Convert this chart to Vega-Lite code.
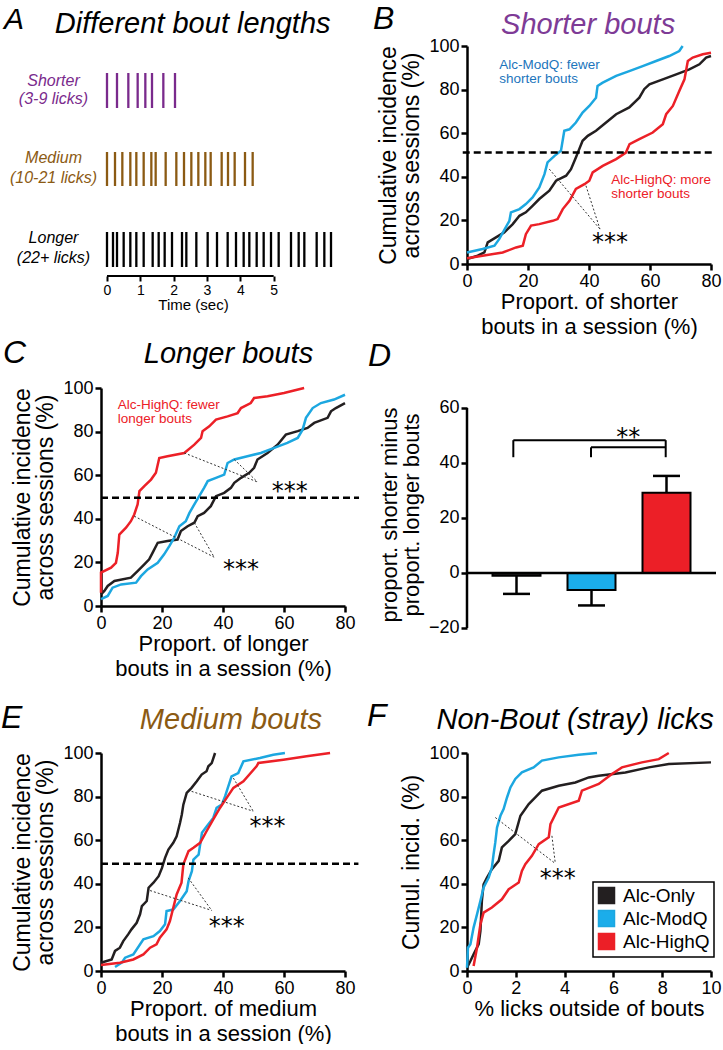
{
"$schema": "https://vega.github.io/schema/vega-lite/v6.json",
"padding": {"top": 2, "left": 0, "right": 0, "bottom": 0},
"background": "white",
"columns": 2,
"spacing": {"row": 112, "column": 122},
"bounds": "flush",
"resolve": {"scale": {"color": "independent"}, "legend": {"color": "independent"}},
"config": {
 "font": "Liberation Sans",
 "view": {"stroke": null},
 "text": {"baseline": "alphabetic"},
 "axis": {"grid": false, "domainColor": "#000", "domainWidth": 2.5, "tickColor": "#000", "tickWidth": 2.5, "tickSize": 6, "labelFontSize": 18, "labelColor": "#000", "labelFont": "Liberation Sans", "titleFont": "Liberation Sans", "titleFontWeight": "normal", "titleColor": "#000", "labelPadding": 2, "labelFlush": false},
 "axisX": {"titleFontSize": 22, "titleLineHeight": 25, "titlePadding": 1},
 "axisY": {"titleFontSize": 23, "titleLineHeight": 23, "titlePadding": 5}
},
"datasets": {
 "A": [
  {"row":"Shorter","t":0},{"row":"Shorter","t":0.30},{"row":"Shorter","t":0.64},{"row":"Shorter","t":0.92},{"row":"Shorter","t":1.15},{"row":"Shorter","t":1.35},{"row":"Shorter","t":1.69},{"row":"Shorter","t":2.04},
  {"row":"Medium","t":0},{"row":"Medium","t":0.24},{"row":"Medium","t":0.46},{"row":"Medium","t":0.70},{"row":"Medium","t":0.88},{"row":"Medium","t":1.10},{"row":"Medium","t":1.33},{"row":"Medium","t":1.46},{"row":"Medium","t":1.76},{"row":"Medium","t":2.08},{"row":"Medium","t":2.31},{"row":"Medium","t":2.53},{"row":"Medium","t":2.74},{"row":"Medium","t":2.95},{"row":"Medium","t":3.11},{"row":"Medium","t":3.44},{"row":"Medium","t":3.63},{"row":"Medium","t":3.83},{"row":"Medium","t":4.14},{"row":"Medium","t":4.37},
  {"row":"Longer","t":0},{"row":"Longer","t":0.18},{"row":"Longer","t":0.30},{"row":"Longer","t":0.50},{"row":"Longer","t":0.70},{"row":"Longer","t":0.88},{"row":"Longer","t":1.10},{"row":"Longer","t":1.37},{"row":"Longer","t":1.55},{"row":"Longer","t":1.73},{"row":"Longer","t":1.95},{"row":"Longer","t":2.25},{"row":"Longer","t":2.38},{"row":"Longer","t":2.68},{"row":"Longer","t":3.02},{"row":"Longer","t":3.30},{"row":"Longer","t":3.62},{"row":"Longer","t":3.87},{"row":"Longer","t":4.10},{"row":"Longer","t":4.27},{"row":"Longer","t":4.49},{"row":"Longer","t":4.70},{"row":"Longer","t":4.92},{"row":"Longer","t":5.15},{"row":"Longer","t":5.52},{"row":"Longer","t":5.75},{"row":"Longer","t":5.92},{"row":"Longer","t":6.29},{"row":"Longer","t":6.52},{"row":"Longer","t":6.72}
 ],
 "B": [
  {"g":"Alc-Only","x":0,"y":2.3},{"g":"Alc-Only","x":3.5,"y":3.8},{"g":"Alc-Only","x":5.7,"y":5.3},{"g":"Alc-Only","x":6.8,"y":9.9},{"g":"Alc-Only","x":9.5,"y":12.2},{"g":"Alc-Only","x":12.2,"y":14.5},{"g":"Alc-Only","x":15,"y":18.3},{"g":"Alc-Only","x":17.2,"y":22.1},{"g":"Alc-Only","x":19.3,"y":23.7},{"g":"Alc-Only","x":21.5,"y":26.7},{"g":"Alc-Only","x":23.7,"y":29.8},{"g":"Alc-Only","x":27,"y":33.6},{"g":"Alc-Only","x":29.2,"y":38.2},{"g":"Alc-Only","x":32.5,"y":40.5},{"g":"Alc-Only","x":34.1,"y":43.5},{"g":"Alc-Only","x":35.7,"y":48.9},{"g":"Alc-Only","x":36.8,"y":52.7},{"g":"Alc-Only","x":37.9,"y":56.5},{"g":"Alc-Only","x":39.6,"y":58.8},{"g":"Alc-Only","x":42.3,"y":61.1},{"g":"Alc-Only","x":45.6,"y":64.9},{"g":"Alc-Only","x":48.9,"y":68.7},{"g":"Alc-Only","x":53.2,"y":71.8},{"g":"Alc-Only","x":56.5,"y":76.3},{"g":"Alc-Only","x":58.1,"y":80.2},{"g":"Alc-Only","x":59.8,"y":82.4},{"g":"Alc-Only","x":64.2,"y":84.7},{"g":"Alc-Only","x":68.6,"y":87},{"g":"Alc-Only","x":72.9,"y":89.3},{"g":"Alc-Only","x":76.2,"y":91.6},{"g":"Alc-Only","x":78.4,"y":94.7},{"g":"Alc-Only","x":80,"y":95.4},
  {"g":"Alc-ModQ","x":0,"y":5.3},{"g":"Alc-ModQ","x":5.1,"y":6.9},{"g":"Alc-ModQ","x":9,"y":8.4},{"g":"Alc-ModQ","x":10.6,"y":11.5},{"g":"Alc-ModQ","x":13.9,"y":19.8},{"g":"Alc-ModQ","x":14.4,"y":23.7},{"g":"Alc-ModQ","x":17.2,"y":25.2},{"g":"Alc-ModQ","x":19.3,"y":27.5},{"g":"Alc-ModQ","x":21.5,"y":30.5},{"g":"Alc-ModQ","x":23.7,"y":35.1},{"g":"Alc-ModQ","x":25.4,"y":41.2},{"g":"Alc-ModQ","x":26.4,"y":46.6},{"g":"Alc-ModQ","x":28.7,"y":49.6},{"g":"Alc-ModQ","x":30.8,"y":51.9},{"g":"Alc-ModQ","x":31.9,"y":61.1},{"g":"Alc-ModQ","x":33.6,"y":61.8},{"g":"Alc-ModQ","x":35.7,"y":64.9},{"g":"Alc-ModQ","x":37.9,"y":69.5},{"g":"Alc-ModQ","x":40.1,"y":72.5},{"g":"Alc-ModQ","x":42.3,"y":76.3},{"g":"Alc-ModQ","x":42.8,"y":81.7},{"g":"Alc-ModQ","x":44.5,"y":83.2},{"g":"Alc-ModQ","x":48.9,"y":86.3},{"g":"Alc-ModQ","x":53.2,"y":88.5},{"g":"Alc-ModQ","x":57.6,"y":90.8},{"g":"Alc-ModQ","x":62,"y":93.1},{"g":"Alc-ModQ","x":66.3,"y":95.4},{"g":"Alc-ModQ","x":69.6,"y":97.7},{"g":"Alc-ModQ","x":70.7,"y":100},
  {"g":"Alc-HighQ","x":0,"y":2.6},{"g":"Alc-HighQ","x":5.1,"y":3.8},{"g":"Alc-HighQ","x":11.7,"y":5.3},{"g":"Alc-HighQ","x":16.1,"y":7.6},{"g":"Alc-HighQ","x":18.3,"y":8.4},{"g":"Alc-HighQ","x":19.3,"y":13.7},{"g":"Alc-HighQ","x":21,"y":17.6},{"g":"Alc-HighQ","x":23.7,"y":18.3},{"g":"Alc-HighQ","x":28.1,"y":19.8},{"g":"Alc-HighQ","x":29.7,"y":20.6},{"g":"Alc-HighQ","x":31.4,"y":25.2},{"g":"Alc-HighQ","x":33.6,"y":29},{"g":"Alc-HighQ","x":35.7,"y":34.4},{"g":"Alc-HighQ","x":38.5,"y":36.6},{"g":"Alc-HighQ","x":40.1,"y":38.2},{"g":"Alc-HighQ","x":41.2,"y":42},{"g":"Alc-HighQ","x":44.5,"y":45},{"g":"Alc-HighQ","x":48.9,"y":48.1},{"g":"Alc-HighQ","x":52.1,"y":51.1},{"g":"Alc-HighQ","x":53.3,"y":55},{"g":"Alc-HighQ","x":56.5,"y":57.3},{"g":"Alc-HighQ","x":60.9,"y":60.3},{"g":"Alc-HighQ","x":64.2,"y":64.1},{"g":"Alc-HighQ","x":65.3,"y":68.7},{"g":"Alc-HighQ","x":67.5,"y":72.5},{"g":"Alc-HighQ","x":69.6,"y":79.4},{"g":"Alc-HighQ","x":71.3,"y":84.7},{"g":"Alc-HighQ","x":72.4,"y":93.1},{"g":"Alc-HighQ","x":74,"y":94.7},{"g":"Alc-HighQ","x":77.3,"y":96.2},{"g":"Alc-HighQ","x":80,"y":96.9}
 ],
 "C": [
  {"g":"Alc-Only","x":0,"y":5.3},{"g":"Alc-Only","x":1.1,"y":6.9},{"g":"Alc-Only","x":2.2,"y":9.2},{"g":"Alc-Only","x":4.4,"y":11.5},{"g":"Alc-Only","x":9.8,"y":13},{"g":"Alc-Only","x":12,"y":16},{"g":"Alc-Only","x":14.2,"y":19.1},{"g":"Alc-Only","x":15.8,"y":21.4},{"g":"Alc-Only","x":16.9,"y":24.4},{"g":"Alc-Only","x":18.6,"y":29},{"g":"Alc-Only","x":21.8,"y":29.8},{"g":"Alc-Only","x":25.1,"y":30.5},{"g":"Alc-Only","x":26.2,"y":34.4},{"g":"Alc-Only","x":28.4,"y":36.6},{"g":"Alc-Only","x":30.6,"y":38.2},{"g":"Alc-Only","x":31.7,"y":41.2},{"g":"Alc-Only","x":33.8,"y":42.7},{"g":"Alc-Only","x":36,"y":45.8},{"g":"Alc-Only","x":37.7,"y":50.4},{"g":"Alc-Only","x":40.4,"y":51.9},{"g":"Alc-Only","x":42.6,"y":54.2},{"g":"Alc-Only","x":43.7,"y":56.5},{"g":"Alc-Only","x":45.9,"y":58.8},{"g":"Alc-Only","x":48.6,"y":61.1},{"g":"Alc-Only","x":50.2,"y":63.4},{"g":"Alc-Only","x":51.3,"y":67.2},{"g":"Alc-Only","x":54.6,"y":70.2},{"g":"Alc-Only","x":57.9,"y":74},{"g":"Alc-Only","x":60.6,"y":78.6},{"g":"Alc-Only","x":64.5,"y":80.2},{"g":"Alc-Only","x":67.7,"y":81.7},{"g":"Alc-Only","x":69.9,"y":84},{"g":"Alc-Only","x":74.3,"y":86.3},{"g":"Alc-Only","x":75.4,"y":89.3},{"g":"Alc-Only","x":77,"y":90.8},{"g":"Alc-Only","x":80,"y":93.1},
  {"g":"Alc-ModQ","x":0,"y":3.1},{"g":"Alc-ModQ","x":2.2,"y":4.6},{"g":"Alc-ModQ","x":3.8,"y":8.4},{"g":"Alc-ModQ","x":6.6,"y":9.9},{"g":"Alc-ModQ","x":11.5,"y":10.7},{"g":"Alc-ModQ","x":13.1,"y":13.7},{"g":"Alc-ModQ","x":15.3,"y":16.8},{"g":"Alc-ModQ","x":18.6,"y":19.8},{"g":"Alc-ModQ","x":20.7,"y":23.7},{"g":"Alc-ModQ","x":22.4,"y":27.5},{"g":"Alc-ModQ","x":24,"y":31.3},{"g":"Alc-ModQ","x":25.7,"y":36.6},{"g":"Alc-ModQ","x":27.8,"y":38.9},{"g":"Alc-ModQ","x":29,"y":42.7},{"g":"Alc-ModQ","x":30.6,"y":46.6},{"g":"Alc-ModQ","x":32.2,"y":50.4},{"g":"Alc-ModQ","x":33.8,"y":54.2},{"g":"Alc-ModQ","x":35,"y":57.3},{"g":"Alc-ModQ","x":37.7,"y":58.8},{"g":"Alc-ModQ","x":40.4,"y":60.3},{"g":"Alc-ModQ","x":41.5,"y":65.6},{"g":"Alc-ModQ","x":43.7,"y":67.2},{"g":"Alc-ModQ","x":48,"y":68.7},{"g":"Alc-ModQ","x":52.4,"y":70.2},{"g":"Alc-ModQ","x":56.8,"y":72.5},{"g":"Alc-ModQ","x":61.1,"y":74.8},{"g":"Alc-ModQ","x":64.5,"y":77.1},{"g":"Alc-ModQ","x":66.1,"y":80.9},{"g":"Alc-ModQ","x":67.2,"y":86.3},{"g":"Alc-ModQ","x":69.4,"y":90.8},{"g":"Alc-ModQ","x":72.1,"y":93.1},{"g":"Alc-ModQ","x":76.4,"y":94.7},{"g":"Alc-ModQ","x":80,"y":96.9},
  {"g":"Alc-HighQ","x":0,"y":6.1},{"g":"Alc-HighQ","x":0,"y":15.3},{"g":"Alc-HighQ","x":3.3,"y":17.6},{"g":"Alc-HighQ","x":4.9,"y":19.8},{"g":"Alc-HighQ","x":5.5,"y":24.4},{"g":"Alc-HighQ","x":6,"y":32.8},{"g":"Alc-HighQ","x":8.2,"y":35.9},{"g":"Alc-HighQ","x":9.8,"y":38.9},{"g":"Alc-HighQ","x":10.9,"y":42},{"g":"Alc-HighQ","x":12,"y":46.6},{"g":"Alc-HighQ","x":12.6,"y":52.7},{"g":"Alc-HighQ","x":14.2,"y":55},{"g":"Alc-HighQ","x":16.4,"y":58},{"g":"Alc-HighQ","x":18,"y":61.1},{"g":"Alc-HighQ","x":19.1,"y":67.9},{"g":"Alc-HighQ","x":21.8,"y":68.7},{"g":"Alc-HighQ","x":27.3,"y":70.2},{"g":"Alc-HighQ","x":30.6,"y":74},{"g":"Alc-HighQ","x":32.8,"y":77.1},{"g":"Alc-HighQ","x":33.3,"y":80.2},{"g":"Alc-HighQ","x":35.5,"y":82.4},{"g":"Alc-HighQ","x":37.7,"y":85.5},{"g":"Alc-HighQ","x":41.5,"y":87},{"g":"Alc-HighQ","x":44.8,"y":88.5},{"g":"Alc-HighQ","x":45.9,"y":90.8},{"g":"Alc-HighQ","x":49.1,"y":93.1},{"g":"Alc-HighQ","x":50.2,"y":95.4},{"g":"Alc-HighQ","x":54.6,"y":96.2},{"g":"Alc-HighQ","x":60,"y":97.7},{"g":"Alc-HighQ","x":66.6,"y":100}
 ],
 "D": [
  {"g":"Alc-Only","v":-1,"e":-7.6},{"g":"Alc-ModQ","v":-6.2,"e":-11.8},{"g":"Alc-HighQ","v":29.2,"e":35.3}
 ],
 "E": [
  {"g":"Alc-Only","x":0,"y":3.8},{"g":"Alc-Only","x":3.5,"y":5.3},{"g":"Alc-Only","x":4.6,"y":9.2},{"g":"Alc-Only","x":6.2,"y":10.7},{"g":"Alc-Only","x":7.3,"y":13.7},{"g":"Alc-Only","x":8.9,"y":16.8},{"g":"Alc-Only","x":10,"y":19.1},{"g":"Alc-Only","x":11.7,"y":22.1},{"g":"Alc-Only","x":12.8,"y":26},{"g":"Alc-Only","x":13.4,"y":29.8},{"g":"Alc-Only","x":15,"y":32.1},{"g":"Alc-Only","x":15.6,"y":38.2},{"g":"Alc-Only","x":17.2,"y":40.5},{"g":"Alc-Only","x":18.9,"y":43.5},{"g":"Alc-Only","x":20,"y":47.3},{"g":"Alc-Only","x":21,"y":51.9},{"g":"Alc-Only","x":22.1,"y":55.7},{"g":"Alc-Only","x":23.7,"y":58.8},{"g":"Alc-Only","x":24.8,"y":61.8},{"g":"Alc-Only","x":25.9,"y":67.9},{"g":"Alc-Only","x":26.5,"y":71.8},{"g":"Alc-Only","x":27,"y":76.3},{"g":"Alc-Only","x":28.1,"y":81.7},{"g":"Alc-Only","x":29.7,"y":84},{"g":"Alc-Only","x":31.4,"y":87},{"g":"Alc-Only","x":33,"y":90.1},{"g":"Alc-Only","x":34.6,"y":91.6},{"g":"Alc-Only","x":35.2,"y":93.9},{"g":"Alc-Only","x":36.3,"y":95.4},{"g":"Alc-Only","x":37.4,"y":100},
  {"g":"Alc-ModQ","x":4.6,"y":1.8},{"g":"Alc-ModQ","x":6.8,"y":3.8},{"g":"Alc-ModQ","x":7.9,"y":6.1},{"g":"Alc-ModQ","x":10.6,"y":7.6},{"g":"Alc-ModQ","x":13.9,"y":14.5},{"g":"Alc-ModQ","x":17.2,"y":16},{"g":"Alc-ModQ","x":19.3,"y":18.3},{"g":"Alc-ModQ","x":21,"y":21.4},{"g":"Alc-ModQ","x":21.5,"y":27.5},{"g":"Alc-ModQ","x":23.7,"y":28.2},{"g":"Alc-ModQ","x":25.9,"y":32.1},{"g":"Alc-ModQ","x":28.1,"y":36.6},{"g":"Alc-ModQ","x":28.7,"y":41.2},{"g":"Alc-ModQ","x":29.8,"y":45.8},{"g":"Alc-ModQ","x":30.3,"y":51.1},{"g":"Alc-ModQ","x":32,"y":53.4},{"g":"Alc-ModQ","x":33.1,"y":63.4},{"g":"Alc-ModQ","x":34.7,"y":66.4},{"g":"Alc-ModQ","x":36.8,"y":70.2},{"g":"Alc-ModQ","x":37.9,"y":74.8},{"g":"Alc-ModQ","x":39.6,"y":76.3},{"g":"Alc-ModQ","x":40.7,"y":80.2},{"g":"Alc-ModQ","x":42.8,"y":89.3},{"g":"Alc-ModQ","x":45,"y":90.8},{"g":"Alc-ModQ","x":46.7,"y":96.2},{"g":"Alc-ModQ","x":52.1,"y":97.7},{"g":"Alc-ModQ","x":56.5,"y":99.2},{"g":"Alc-ModQ","x":60.3,"y":100},
  {"g":"Alc-HighQ","x":0,"y":2.7},{"g":"Alc-HighQ","x":6.2,"y":3.8},{"g":"Alc-HighQ","x":10.6,"y":5.3},{"g":"Alc-HighQ","x":13.9,"y":7.6},{"g":"Alc-HighQ","x":16.1,"y":10.7},{"g":"Alc-HighQ","x":18.2,"y":12.2},{"g":"Alc-HighQ","x":19.3,"y":15.3},{"g":"Alc-HighQ","x":21.5,"y":19.1},{"g":"Alc-HighQ","x":22.6,"y":22.9},{"g":"Alc-HighQ","x":23.7,"y":29},{"g":"Alc-HighQ","x":24.8,"y":35.1},{"g":"Alc-HighQ","x":26.4,"y":40.5},{"g":"Alc-HighQ","x":27,"y":48.9},{"g":"Alc-HighQ","x":28.7,"y":55},{"g":"Alc-HighQ","x":30.3,"y":56.5},{"g":"Alc-HighQ","x":32.5,"y":58.8},{"g":"Alc-HighQ","x":34.6,"y":64.1},{"g":"Alc-HighQ","x":36.8,"y":69.5},{"g":"Alc-HighQ","x":39,"y":74.8},{"g":"Alc-HighQ","x":41.2,"y":79.4},{"g":"Alc-HighQ","x":43.4,"y":84},{"g":"Alc-HighQ","x":46.7,"y":87},{"g":"Alc-HighQ","x":51,"y":93.9},{"g":"Alc-HighQ","x":51.6,"y":95.4},{"g":"Alc-HighQ","x":59.8,"y":96.9},{"g":"Alc-HighQ","x":67.4,"y":98.5},{"g":"Alc-HighQ","x":75.1,"y":100}
 ],
 "F": [
  {"g":"Alc-Only","x":0,"y":1.5},{"g":"Alc-Only","x":0.14,"y":4.6},{"g":"Alc-Only","x":0.27,"y":7.7},{"g":"Alc-Only","x":0.48,"y":12.3},{"g":"Alc-Only","x":0.55,"y":18.4},{"g":"Alc-Only","x":0.61,"y":32.2},{"g":"Alc-Only","x":0.68,"y":39.8},{"g":"Alc-Only","x":0.82,"y":42.9},{"g":"Alc-Only","x":1.02,"y":46.7},{"g":"Alc-Only","x":1.3,"y":50.5},{"g":"Alc-Only","x":1.43,"y":56.7},{"g":"Alc-Only","x":1.71,"y":59.7},{"g":"Alc-Only","x":1.98,"y":62.8},{"g":"Alc-Only","x":2.19,"y":71.2},{"g":"Alc-Only","x":2.53,"y":76.6},{"g":"Alc-Only","x":2.8,"y":79.6},{"g":"Alc-Only","x":3.07,"y":82.7},{"g":"Alc-Only","x":3.76,"y":85},{"g":"Alc-Only","x":4.44,"y":86.5},{"g":"Alc-Only","x":4.99,"y":88.8},{"g":"Alc-Only","x":5.4,"y":89.6},{"g":"Alc-Only","x":6.49,"y":91.1},{"g":"Alc-Only","x":7.45,"y":93.4},{"g":"Alc-Only","x":8.27,"y":94.9},{"g":"Alc-Only","x":10,"y":95.7},
  {"g":"Alc-ModQ","x":0,"y":1.5},{"g":"Alc-ModQ","x":0.04,"y":10.7},{"g":"Alc-ModQ","x":0.14,"y":12.3},{"g":"Alc-ModQ","x":0.27,"y":19.9},{"g":"Alc-ModQ","x":0.41,"y":26},{"g":"Alc-ModQ","x":0.55,"y":32.2},{"g":"Alc-ModQ","x":0.68,"y":38.3},{"g":"Alc-ModQ","x":0.89,"y":42.9},{"g":"Alc-ModQ","x":1.02,"y":47.5},{"g":"Alc-ModQ","x":1.09,"y":53.6},{"g":"Alc-ModQ","x":1.16,"y":59},{"g":"Alc-ModQ","x":1.23,"y":65.8},{"g":"Alc-ModQ","x":1.37,"y":71.2},{"g":"Alc-ModQ","x":1.5,"y":74.3},{"g":"Alc-ModQ","x":1.64,"y":79.6},{"g":"Alc-ModQ","x":1.78,"y":84.2},{"g":"Alc-ModQ","x":1.98,"y":88.1},{"g":"Alc-ModQ","x":2.25,"y":91.1},{"g":"Alc-ModQ","x":2.73,"y":93.4},{"g":"Alc-ModQ","x":3.07,"y":96.5},{"g":"Alc-ModQ","x":3.76,"y":98},{"g":"Alc-ModQ","x":4.58,"y":99.2},{"g":"Alc-ModQ","x":5.33,"y":100},
  {"g":"Alc-HighQ","x":0.27,"y":2.3},{"g":"Alc-HighQ","x":0.41,"y":10.7},{"g":"Alc-HighQ","x":0.55,"y":21.4},{"g":"Alc-HighQ","x":0.68,"y":26.8},{"g":"Alc-HighQ","x":1.02,"y":29.1},{"g":"Alc-HighQ","x":1.43,"y":32.9},{"g":"Alc-HighQ","x":1.71,"y":37.5},{"g":"Alc-HighQ","x":2.12,"y":40.6},{"g":"Alc-HighQ","x":2.25,"y":45.9},{"g":"Alc-HighQ","x":2.39,"y":49},{"g":"Alc-HighQ","x":2.66,"y":52.8},{"g":"Alc-HighQ","x":2.94,"y":58.2},{"g":"Alc-HighQ","x":3.35,"y":61.3},{"g":"Alc-HighQ","x":3.42,"y":67.4},{"g":"Alc-HighQ","x":3.76,"y":75},{"g":"Alc-HighQ","x":4.58,"y":78.1},{"g":"Alc-HighQ","x":4.71,"y":82.7},{"g":"Alc-HighQ","x":5.4,"y":85.8},{"g":"Alc-HighQ","x":5.94,"y":90.4},{"g":"Alc-HighQ","x":6.35,"y":93.4},{"g":"Alc-HighQ","x":7.17,"y":95.7},{"g":"Alc-HighQ","x":7.86,"y":97.2},{"g":"Alc-HighQ","x":8.27,"y":100}
 ]
},
"concat": [
 {
  "width": 244, "height": 230,
  "layer": [
   {"data": {"name": "A"}, "transform": [{"filter": "datum.row === 'Shorter'"}],
    "mark": {"type": "rule", "strokeWidth": 2.3},
    "encoding": {
     "x": {"field": "t", "type": "quantitative", "scale": {"domain": [-0.18, 7.14], "nice": false, "zero": false},
           "axis": {"values": [0,1,2,3,4,5], "domain": false, "tickSize": 5, "tickWidth": 2, "labelFontSize": 14, "labelPadding": 2, "title": "Time (sec)", "titleFontSize": 15, "titleLineHeight": 15, "titlePadding": 0, "titleX": 92}},
     "y": {"datum": 203, "scale": {"domain": [0, 230], "nice": false}, "axis": null},
     "y2": {"datum": 168},
     "color": {"field": "row", "type": "nominal", "scale": {"domain": ["Shorter","Medium","Longer"], "range": ["#7a2a8c","#8b5a13","#000000"]}, "legend": null}}},
   {"data": {"name": "A"}, "transform": [{"filter": "datum.row === 'Medium'"}],
    "mark": {"type": "rule", "strokeWidth": 2.3},
    "encoding": {"x": {"field": "t", "type": "quantitative"}, "y": {"datum": 124, "axis": null}, "y2": {"datum": 90},
     "color": {"field": "row", "type": "nominal", "legend": null}}},
   {"data": {"name": "A"}, "transform": [{"filter": "datum.row === 'Longer'"}],
    "mark": {"type": "rule", "strokeWidth": 2.3},
    "encoding": {"x": {"field": "t", "type": "quantitative"}, "y": {"datum": 44, "axis": null}, "y2": {"datum": 9},
     "color": {"field": "row", "type": "nominal", "legend": null}}},
   {"data": {"values": [{}]}, "layer": [
    {"mark": {"type": "rule", "strokeWidth": 2, "color": "#000"}, "encoding": {"x": {"datum": 0}, "x2": {"datum": 5}, "y": {"datum": 0, "axis": null}}},
    {"mark": {"type": "text", "text": ["Shorter", "(3-9 licks)"], "fontSize": 16, "fontStyle": "italic", "lineHeight": 18, "align": "center", "color": "#7a2a8c"}, "encoding": {"x": {"datum": -1.605}, "y": {"datum": 190, "axis": null}}},
    {"mark": {"type": "text", "text": ["Medium", "(10-21 licks)"], "fontSize": 16, "fontStyle": "italic", "lineHeight": 20, "align": "center", "color": "#8b5a13"}, "encoding": {"x": {"datum": -1.605}, "y": {"datum": 113.3, "axis": null}}},
    {"mark": {"type": "text", "text": ["Longer", "(22+ licks)"], "fontSize": 16, "fontStyle": "italic", "lineHeight": 20, "align": "center", "color": "#000"}, "encoding": {"x": {"datum": -1.605}, "y": {"datum": 33.3, "axis": null}}},
    {"mark": {"type": "text", "text": "A", "fontSize": 30, "fontStyle": "italic", "align": "left", "color": "#000"}, "encoding": {"x": {"datum": -3.09}, "y": {"datum": 247, "axis": null}}},
    {"mark": {"type": "text", "text": "Different bout lengths", "fontSize": 29, "fontStyle": "italic", "align": "center", "color": "#000"}, "encoding": {"x": {"datum": 2.57}, "y": {"datum": 243.3, "axis": null}}}
   ]}
  ]
 },
 {
  "width": 244, "height": 218,
  "layer": [
   {"data": {"name": "B"}, "mark": {"type": "line", "strokeWidth": 2.5},
    "encoding": {
     "x": {"field": "x", "type": "quantitative", "scale": {"domain": [0, 80], "nice": false, "zero": false}, "axis": {"values": [0,20,40,60,80], "title": ["Proport. of shorter", "bouts in a session (%)"]}},
     "y": {"field": "y", "type": "quantitative", "scale": {"domain": [0, 100], "nice": false}, "axis": {"values": [0,20,40,60,80,100], "title": ["Cumulative incidence", "across sessions (%)"]}},
     "color": {"field": "g", "type": "nominal", "scale": {"domain": ["Alc-Only","Alc-ModQ","Alc-HighQ"], "range": ["#231f20","#1ca7e0","#ec2027"]}, "legend": null},
     "order": {"field": "y", "type": "quantitative"}}},
   {"data": {"values": [{}]}, "layer": [
    {"mark": {"type": "rule", "strokeWidth": 2.5, "strokeDash": [7, 4], "color": "#000"}, "encoding": {"x": {"datum": -1.4}, "x2": {"datum": 81.2}, "y": {"datum": 51.1}}},
    {"mark": {"type": "rule", "strokeWidth": 1, "strokeDash": [2, 2], "color": "#333"}, "encoding": {"x": {"datum": 27}, "y": {"datum": 43.5}, "x2": {"datum": 43.6}, "y2": {"datum": 16}}},
    {"mark": {"type": "rule", "strokeWidth": 1, "strokeDash": [2, 2], "color": "#333"}, "encoding": {"x": {"datum": 39}, "y": {"datum": 35.9}, "x2": {"datum": 43.6}, "y2": {"datum": 16}}},
    {"mark": {"type": "text", "text": "***", "font": "DejaVu Sans", "fontSize": 24, "align": "center", "color": "#000"}, "encoding": {"x": {"datum": 46.9}, "y": {"datum": 6.4}}},
    {"mark": {"type": "text", "text": ["Alc-ModQ: fewer", "shorter bouts"], "fontSize": 13.5, "lineHeight": 14, "align": "left", "color": "#1c75bc"}, "encoding": {"x": {"datum": 10.6}, "y": {"datum": 89.3}}},
    {"mark": {"type": "text", "text": ["Alc-HighQ: more", "shorter bouts"], "fontSize": 13.5, "lineHeight": 14, "align": "left", "color": "#ec2027"}, "encoding": {"x": {"datum": 47.3}, "y": {"datum": 36.6}}},
    {"mark": {"type": "text", "text": "B", "fontSize": 32, "fontStyle": "italic", "align": "left", "color": "#000"}, "encoding": {"x": {"datum": -30.8}, "y": {"datum": 107.8}}},
    {"mark": {"type": "text", "text": "Shorter bouts", "fontSize": 29, "fontStyle": "italic", "align": "center", "color": "#7e3b96"}, "encoding": {"x": {"datum": 39.7}, "y": {"datum": 105.5}}}
   ]}
  ]
 },
 {
  "width": 244, "height": 218,
  "layer": [
   {"data": {"name": "C"}, "mark": {"type": "line", "strokeWidth": 2.5},
    "encoding": {
     "x": {"field": "x", "type": "quantitative", "scale": {"domain": [0, 80], "nice": false, "zero": false}, "axis": {"values": [0,20,40,60,80], "title": ["Proport. of longer", "bouts in a session (%)"]}},
     "y": {"field": "y", "type": "quantitative", "scale": {"domain": [0, 100], "nice": false}, "axis": {"values": [0,20,40,60,80,100], "title": ["Cumulative incidence", "across sessions (%)"]}},
     "color": {"field": "g", "type": "nominal", "scale": {"domain": ["Alc-Only","Alc-ModQ","Alc-HighQ"], "range": ["#231f20","#1ca7e0","#ec2027"]}, "legend": null},
     "order": {"field": "y", "type": "quantitative"}}},
   {"data": {"values": [{}]}, "layer": [
    {"mark": {"type": "rule", "strokeWidth": 2.5, "strokeDash": [7, 4], "color": "#000"}, "encoding": {"x": {"datum": 0}, "x2": {"datum": 84.6}, "y": {"datum": 49.6}}},
    {"mark": {"type": "rule", "strokeWidth": 1, "strokeDash": [2, 2], "color": "#333"}, "encoding": {"x": {"datum": 27.3}, "y": {"datum": 70.2}, "x2": {"datum": 51.3}, "y2": {"datum": 56.9}}},
    {"mark": {"type": "rule", "strokeWidth": 1, "strokeDash": [2, 2], "color": "#333"}, "encoding": {"x": {"datum": 43.7}, "y": {"datum": 67.2}, "x2": {"datum": 51.3}, "y2": {"datum": 56.9}}},
    {"mark": {"type": "rule", "strokeWidth": 1, "strokeDash": [2, 2], "color": "#333"}, "encoding": {"x": {"datum": 10.9}, "y": {"datum": 41.2}, "x2": {"datum": 37.1}, "y2": {"datum": 22.4}}},
    {"mark": {"type": "rule", "strokeWidth": 1, "strokeDash": [2, 2], "color": "#333"}, "encoding": {"x": {"datum": 30.6}, "y": {"datum": 38.2}, "x2": {"datum": 37.1}, "y2": {"datum": 22.4}}},
    {"mark": {"type": "text", "text": "***", "font": "DejaVu Sans", "fontSize": 24, "align": "center", "color": "#000"}, "encoding": {"x": {"datum": 61.9}, "y": {"datum": 48.9}}},
    {"mark": {"type": "text", "text": "***", "font": "DejaVu Sans", "fontSize": 24, "align": "center", "color": "#000"}, "encoding": {"x": {"datum": 45.9}, "y": {"datum": 13.3}}},
    {"mark": {"type": "text", "text": ["Alc-HighQ: fewer", "longer bouts"], "fontSize": 13.5, "lineHeight": 13.5, "align": "left", "color": "#ec2027"}, "encoding": {"x": {"datum": 5.5}, "y": {"datum": 90.2}}},
    {"mark": {"type": "text", "text": "C", "fontSize": 32, "fontStyle": "italic", "align": "left", "color": "#000"}, "encoding": {"x": {"datum": -32.1}, "y": {"datum": 111.5}}},
    {"mark": {"type": "text", "text": "Longer bouts", "fontSize": 29, "fontStyle": "italic", "align": "center", "color": "#000"}, "encoding": {"x": {"datum": 41.8}, "y": {"datum": 111.6}}}
   ]}
  ]
 },
 {
  "width": 249, "height": 253,
  "resolve": {"scale": {"x": "independent"}},
  "layer": [
   {"data": {"name": "D"},
    "encoding": {"x": {"field": "g", "type": "nominal", "scale": {"type": "band", "domain": ["Alc-Only","Alc-ModQ","Alc-HighQ"], "paddingInner": 0.36, "paddingOuter": 0.34}, "axis": null}},
    "layer": [
     {"mark": {"type": "bar", "stroke": "#000", "strokeWidth": 2},
      "encoding": {
       "y": {"field": "v", "type": "quantitative", "scale": {"domain": [-24.73, 67.27], "nice": false, "zero": false}, "axis": {"values": [-20,0,20,40,60], "domain": false, "title": ["proport. shorter minus", "proport. longer bouts"], "titleFontSize": 22, "titleLineHeight": 22}},
       "y2": {"datum": 0},
       "color": {"field": "g", "type": "nominal", "scale": {"domain": ["Alc-Only","Alc-ModQ","Alc-HighQ"], "range": ["#231f20","#1badea","#ec1f27"]}, "legend": null}}},
     {"mark": {"type": "rule", "strokeWidth": 2.5, "color": "#000"}, "encoding": {"y": {"field": "v", "type": "quantitative"}, "y2": {"field": "e"}}},
     {"mark": {"type": "tick", "thickness": 2.5, "size": 27, "color": "#000", "opacity": 1}, "encoding": {"y": {"field": "e", "type": "quantitative"}}}
    ]},
   {"data": {"values": [{}]}, "layer": [
    {"mark": {"type": "rule", "strokeWidth": 2.5, "color": "#000"}, "encoding": {"x": {"datum": 0, "scale": {"domain": [0, 1], "nice": false, "zero": false}, "axis": null}, "x2": {"datum": 1}, "y": {"datum": 0}}},
    {"mark": {"type": "rule", "strokeWidth": 2.5, "color": "#000"}, "encoding": {"x": {"datum": 0, "axis": null}, "y": {"datum": -20}, "y2": {"datum": 60}}},
    {"mark": {"type": "rule", "strokeWidth": 2, "color": "#000"}, "encoding": {"x": {"datum": 0.186, "axis": null}, "x2": {"datum": 0.798}, "y": {"datum": 48.3}}},
    {"mark": {"type": "rule", "strokeWidth": 2, "color": "#000"}, "encoding": {"x": {"datum": 0.186, "axis": null}, "y": {"datum": 42.1}, "y2": {"datum": 48.3}}},
    {"mark": {"type": "rule", "strokeWidth": 2, "color": "#000"}, "encoding": {"x": {"datum": 0.798, "axis": null}, "y": {"datum": 42.1}, "y2": {"datum": 48.3}}},
    {"mark": {"type": "rule", "strokeWidth": 2, "color": "#000"}, "encoding": {"x": {"datum": 0.498, "axis": null}, "x2": {"datum": 0.798}, "y": {"datum": 45.7}}},
    {"mark": {"type": "rule", "strokeWidth": 2, "color": "#000"}, "encoding": {"x": {"datum": 0.498, "axis": null}, "y": {"datum": 42.1}, "y2": {"datum": 45.7}}},
    {"mark": {"type": "text", "text": "**", "font": "DejaVu Sans", "fontSize": 24, "align": "center", "color": "#000"}, "encoding": {"x": {"datum": 0.648, "axis": null}, "y": {"datum": 46.7}}},
    {"mark": {"type": "text", "text": "D", "fontSize": 32, "fontStyle": "italic", "align": "left", "color": "#000"}, "encoding": {"x": {"datum": -0.398, "axis": null}, "y": {"datum": 75.3}}}
   ]}
  ]
 },
 {
  "width": 244, "height": 218,
  "layer": [
   {"data": {"name": "E"}, "mark": {"type": "line", "strokeWidth": 2.5},
    "encoding": {
     "x": {"field": "x", "type": "quantitative", "scale": {"domain": [0, 80], "nice": false, "zero": false}, "axis": {"values": [0,20,40,60,80], "title": ["Proport. of medium", "bouts in a session (%)"]}},
     "y": {"field": "y", "type": "quantitative", "scale": {"domain": [0, 100], "nice": false}, "axis": {"values": [0,20,40,60,80,100], "title": ["Cumulative incidence", "across sessions (%)"]}},
     "color": {"field": "g", "type": "nominal", "scale": {"domain": ["Alc-Only","Alc-ModQ","Alc-HighQ"], "range": ["#231f20","#1ca7e0","#ec2027"]}, "legend": null},
     "order": {"field": "y", "type": "quantitative"}}},
   {"data": {"values": [{}]}, "layer": [
    {"mark": {"type": "rule", "strokeWidth": 2.5, "strokeDash": [7, 4], "color": "#000"}, "encoding": {"x": {"datum": 0}, "x2": {"datum": 84.4}, "y": {"datum": 49.2}}},
    {"mark": {"type": "rule", "strokeWidth": 1, "strokeDash": [2, 2], "color": "#333"}, "encoding": {"x": {"datum": 29.7}, "y": {"datum": 82.4}, "x2": {"datum": 49.9}, "y2": {"datum": 73.3}}},
    {"mark": {"type": "rule", "strokeWidth": 1, "strokeDash": [2, 2], "color": "#333"}, "encoding": {"x": {"datum": 43.4}, "y": {"datum": 88.5}, "x2": {"datum": 49.9}, "y2": {"datum": 73.3}}},
    {"mark": {"type": "rule", "strokeWidth": 1, "strokeDash": [2, 2], "color": "#333"}, "encoding": {"x": {"datum": 16.1}, "y": {"datum": 36.9}, "x2": {"datum": 36.3}, "y2": {"datum": 27.8}}},
    {"mark": {"type": "rule", "strokeWidth": 1, "strokeDash": [2, 2], "color": "#333"}, "encoding": {"x": {"datum": 28.6}, "y": {"datum": 42.7}, "x2": {"datum": 36.3}, "y2": {"datum": 27.8}}},
    {"mark": {"type": "text", "text": "***", "font": "DejaVu Sans", "fontSize": 24, "align": "center", "color": "#000"}, "encoding": {"x": {"datum": 54.6}, "y": {"datum": 62.9}}},
    {"mark": {"type": "text", "text": "***", "font": "DejaVu Sans", "fontSize": 24, "align": "center", "color": "#000"}, "encoding": {"x": {"datum": 41.2}, "y": {"datum": 17.1}}},
    {"mark": {"type": "text", "text": "E", "fontSize": 32, "fontStyle": "italic", "align": "left", "color": "#000"}, "encoding": {"x": {"datum": -32.8}, "y": {"datum": 111.5}}},
    {"mark": {"type": "text", "text": "Medium bouts", "fontSize": 29, "fontStyle": "italic", "align": "center", "color": "#8b5a13"}, "encoding": {"x": {"datum": 42.6}, "y": {"datum": 110.9}}}
   ]}
  ]
 },
 {
  "width": 244, "height": 218,
  "layer": [
   {"data": {"name": "F"}, "mark": {"type": "line", "strokeWidth": 2.5},
    "encoding": {
     "x": {"field": "x", "type": "quantitative", "scale": {"domain": [0, 10], "nice": false, "zero": false}, "axis": {"values": [0,2,4,6,8,10], "title": "% licks outside of bouts"}},
     "y": {"field": "y", "type": "quantitative", "scale": {"domain": [0, 100], "nice": false}, "axis": {"values": [0,20,40,60,80,100], "title": "Cumul. incid. (%)"}},
     "color": {"field": "g", "type": "nominal", "scale": {"domain": ["Alc-Only","Alc-ModQ","Alc-HighQ"], "range": ["#231f20","#1ca7e0","#ec2027"]},
      "legend": {"orient": "none", "legendX": 126, "legendY": 129, "title": null, "symbolType": "square", "symbolSize": 256, "symbolStrokeWidth": 1.5, "symbolStrokeColor": "#000", "labelFontSize": 19, "labelFont": "Liberation Sans", "labelColor": "#000", "labelOffset": 7, "rowPadding": 0, "padding": 4, "strokeColor": "#000",
       "encode": {"symbols": {"update": {"fill": {"signal": "datum.value === 'Alc-Only' ? '#231f20' : datum.value === 'Alc-ModQ' ? '#1badea' : '#ec1f27'"}, "stroke": {"value": "#000"}, "strokeWidth": {"value": 1.5}, "opacity": {"value": 1}}}, "legend": {"update": {"strokeWidth": {"value": 1.5}}}}}},
     "order": {"field": "y", "type": "quantitative"}}},
   {"data": {"values": [{}]}, "layer": [
    {"mark": {"type": "rule", "strokeWidth": 1, "strokeDash": [2, 2], "color": "#333"}, "encoding": {"x": {"datum": 1.16}, "y": {"datum": 70.4}, "x2": {"datum": 3.62}, "y2": {"datum": 49.3}}},
    {"mark": {"type": "rule", "strokeWidth": 1, "strokeDash": [2, 2], "color": "#333"}, "encoding": {"x": {"datum": 3.48}, "y": {"datum": 62}, "x2": {"datum": 3.62}, "y2": {"datum": 49.3}}},
    {"mark": {"type": "text", "text": "***", "font": "DejaVu Sans", "fontSize": 24, "align": "center", "color": "#000"}, "encoding": {"x": {"datum": 3.72}, "y": {"datum": 38.9}}},
    {"mark": {"type": "text", "text": "F", "fontSize": 32, "fontStyle": "italic", "align": "left", "color": "#000"}, "encoding": {"x": {"datum": -4.1}, "y": {"datum": 112.4}}},
    {"mark": {"type": "text", "text": "Non-Bout (stray) licks", "fontSize": 29, "fontStyle": "italic", "align": "center", "color": "#000"}, "encoding": {"x": {"datum": 4.43}, "y": {"datum": 111}}}
   ]}
  ]
 }
]
}
